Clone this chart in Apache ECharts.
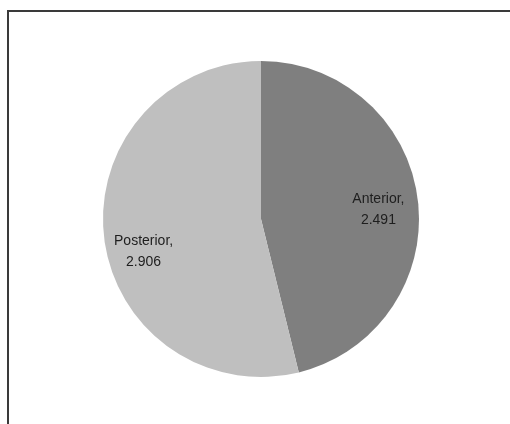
<!DOCTYPE html>
<html>
<head>
<meta charset="utf-8">
<script src="https://cdn.jsdelivr.net/npm/echarts@6/dist/echarts.min.js"></script>
<style>
  html, body { margin: 0; padding: 0; background: #ffffff; }
  #chart { width: 510px; height: 424px; }
</style>
</head>
<body>
<div id="chart"></div>
<script>
// Slice names and values
const categories = ['Anterior', 'Posterior'];
const values = [2.491, 2.906];
const sliceColors = ['#7f7f7f', '#bfbfbf'];

// Label nudges away from the default inside position (pixels)
const labelShift = [
  { dx: 36, dy: 1 },
  { dx: -36, dy: 23 }
];

const chart = echarts.init(document.getElementById('chart'), null, { renderer: 'canvas' });

chart.setOption({
  backgroundColor: '#ffffff',
  animation: false,
  graphic: [{
    type: 'rect',
    shape: { x: 8, y: 11, width: 540, height: 440 },
    style: { fill: 'none', stroke: '#3a3a3a', lineWidth: 2 },
    silent: true
  }],
  series: [{
    type: 'pie',
    center: [261, 219],
    radius: 158,
    startAngle: 90,
    clockwise: true,
    silent: true,
    itemStyle: { borderWidth: 0 },
    label: {
      show: true,
      position: 'inside',
      formatter: p => p.name + ',\n' + p.value.toFixed(3),
      fontFamily: 'Liberation Sans, Arial, sans-serif',
      fontSize: 14,
      lineHeight: 21,
      color: '#1e1e1e',
      align: 'center'
    },
    labelLine: { show: false },
    labelLayout: p => labelShift[p.dataIndex],
    data: categories.map((name, i) => ({
      name: name,
      value: values[i],
      itemStyle: { color: sliceColors[i] }
    }))
  }]
});
</script>
</body>
</html>
